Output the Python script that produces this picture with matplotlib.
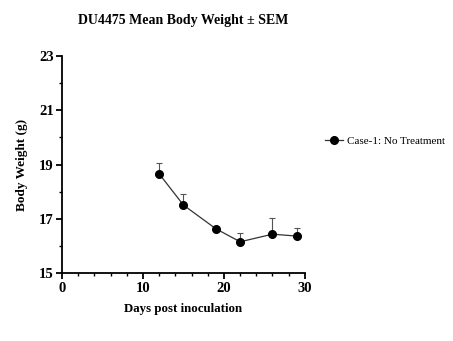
import matplotlib
matplotlib.use("Agg")
import matplotlib.pyplot as plt
import numpy as np

plt.rcParams['font.family'] = ['Liberation Serif', 'DejaVu Serif']

days = [12, 15, 19, 22, 26, 29]
weight = [18.66, 17.51, 16.64, 16.16, 16.44, 16.37]
sem = [0.39, 0.40, 0.0, 0.31, 0.61, 0.31]
series_name = "Case-1: No Treatment"

fig = plt.figure(figsize=(4.53, 3.41), dpi=100)
ax = fig.add_axes([0.137, 0.1985, 0.536, 0.6375])

# upper error only
ax.errorbar(days, weight, yerr=[np.zeros(len(sem)), sem], fmt='none',
            ecolor='#555555', elinewidth=0.8, capsize=2.5, capthick=0.8)
ax.plot(days, weight, color='#333333', lw=0.9, marker='o', ms=5.5,
        mfc='black', mec='black', label=series_name)

ax.set_xlim(0, 30)
ax.set_ylim(15, 23)
ax.set_xticks([0, 10, 20, 30])
ax.set_xticks(np.arange(0, 31, 2), minor=True)
ax.set_yticks([15, 17, 19, 21, 23])
ax.set_yticks([16, 18, 20, 22], minor=True)
for s in ['top', 'right']:
    ax.spines[s].set_visible(False)
for s in ['left', 'bottom']:
    ax.spines[s].set_linewidth(1.3)
ax.tick_params(which='major', length=4, width=1.3, labelsize=10.5, pad=2)
ax.tick_params(which='minor', length=2.5, width=1)
for lab in ax.get_xticklabels() + ax.get_yticklabels():
    lab.set_fontweight('bold')

ax.set_xlabel("Days post inoculation", fontsize=9.3, fontweight='bold', labelpad=6)
ax.set_ylabel("Body Weight (g)", fontsize=9.5, fontweight='bold', labelpad=8)
fig.text(0.405, 0.94, "DU4475 Mean Body Weight ± SEM", ha='center', va='center',
         fontsize=10, fontweight='bold')

fig.legend(loc='center left', bbox_to_anchor=(0.717, 0.587), frameon=False,
           fontsize=8, handlelength=1.6, handletextpad=0.4,
           borderaxespad=0, borderpad=0)

fig.savefig("out.png", dpi=100)
